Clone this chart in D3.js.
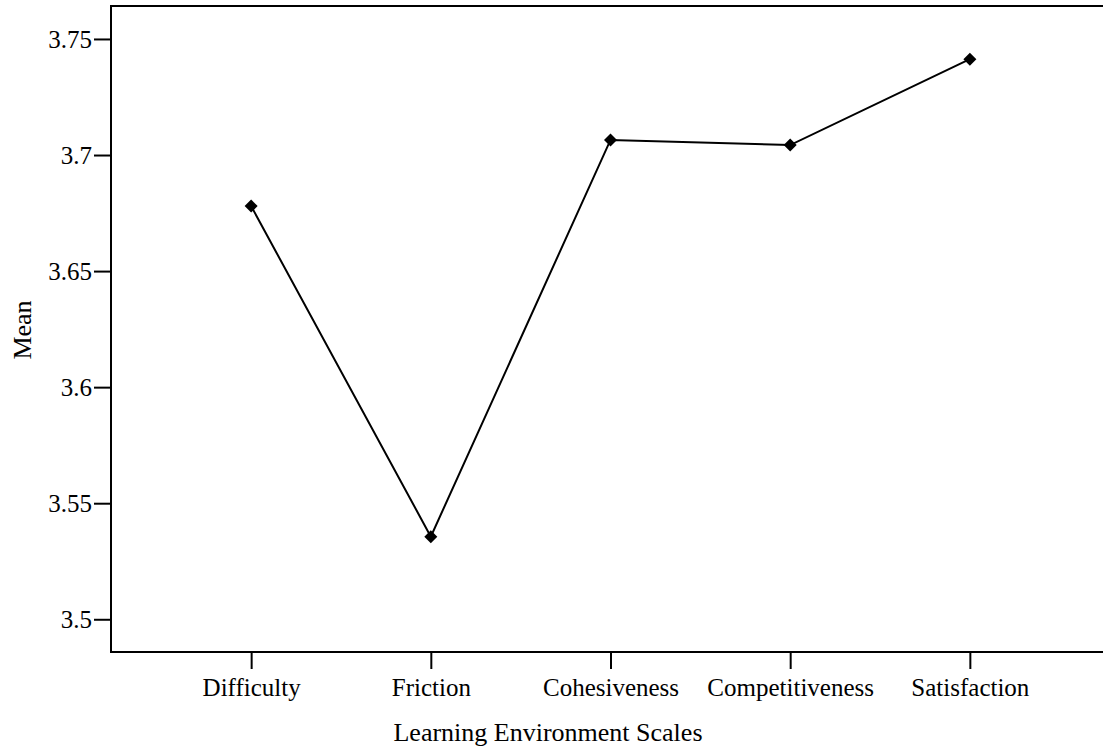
<!DOCTYPE html>
<html>
<head>
<meta charset="utf-8">
<script src="https://cdn.jsdelivr.net/npm/d3@7"></script>
<style>
  body { margin: 0; background: #fff; }
  svg { display: block; }
  text { font-family: "Liberation Serif", "Times New Roman", serif; fill: #000; }
</style>
</head>
<body>
<svg width="1103" height="750"></svg>
<script>
// data
var scales = ["Difficulty", "Friction", "Cohesiveness", "Competitiveness", "Satisfaction"];
var means = [3.678, 3.5356, 3.7065, 3.7043, 3.7413];
var yTicks = [3.5, 3.55, 3.6, 3.65, 3.7, 3.75];

var svg = d3.select("svg");

var plotLeft = 111, plotRight = 1110, plotTop = 6, plotBottom = 652;

var x = d3.scalePoint()
          .domain(scales)
          .range([plotLeft, plotRight])
          .padding(0.78);

var y = d3.scaleLinear()
          .domain([3.4859, 3.7642])
          .range([plotBottom, plotTop]);

// plot frame
svg.append("rect")
   .attr("x", plotLeft)
   .attr("y", plotTop)
   .attr("width", plotRight - plotLeft)
   .attr("height", plotBottom - plotTop)
   .style("fill", "none")
   .style("stroke", "#000")
   .style("stroke-width", 2);

// y axis
var yAxis = svg.append("g")
   .attr("transform", "translate(" + plotLeft + ",0)")
   .call(d3.axisLeft(y).tickValues(yTicks).tickSize(17).tickPadding(2)
          .tickFormat(function(d){ return String(+d.toFixed(2)); }));

// x axis
var xAxis = svg.append("g")
   .attr("transform", "translate(0," + plotBottom + ")")
   .call(d3.axisBottom(x).tickSize(17).tickPadding(8));

[yAxis, xAxis].forEach(function(a){
  a.select(".domain").remove();
  a.selectAll(".tick line").style("stroke", "#000").style("stroke-width", 2);
  a.selectAll(".tick text")
   .style("font-family", "'Liberation Serif', serif")
   .style("font-size", "25px")
   .style("fill", "#000");
});

yAxis.selectAll(".tick text").attr("dy", "0.34em");
xAxis.selectAll(".tick text").attr("dy", "0.75em");

// line
var line = d3.line()
             .x(function(d, i){ return x(scales[i]); })
             .y(function(d){ return y(d); });

svg.append("path")
   .datum(means)
   .attr("d", line)
   .style("fill", "none")
   .style("stroke", "#000")
   .style("stroke-width", 2);

// diamond markers
svg.selectAll(".point")
   .data(means)
   .enter().append("path")
   .attr("class", "point")
   .attr("transform", function(d, i){ return "translate(" + x(scales[i]) + "," + y(d) + ")"; })
   .attr("d", "M0,-6.5L6.5,0L0,6.5L-6.5,0Z")
   .style("fill", "#000");

// axis titles
svg.append("text")
   .attr("x", 548)
   .attr("y", 741)
   .attr("text-anchor", "middle")
   .style("font-size", "26px")
   .text("Learning Environment Scales");

svg.append("text")
   .attr("transform", "translate(31,330) rotate(-90)")
   .attr("text-anchor", "middle")
   .style("font-size", "26px")
   .text("Mean");
</script>
</body>
</html>
